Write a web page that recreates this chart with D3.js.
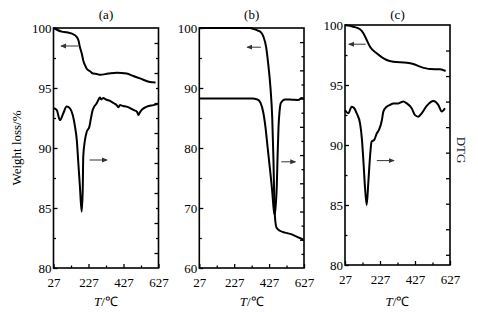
<!DOCTYPE html>
<html>
<head>
<meta charset="utf-8">
<script src="https://cdn.jsdelivr.net/npm/d3@7"></script>
<style>
body { margin: 0; background: #fff; }
svg { display: block; font-family: "Liberation Serif", "Times New Roman", serif; }
.curve { fill: none; stroke: #000; stroke-width: 2; stroke-linejoin: round; }
.frame { fill: none; stroke: #000; stroke-width: 1.6; }
.tick line { stroke: #000; stroke-width: 1.3; }
.tick text { font-size: 13px; fill: #000; font-family: "Liberation Serif", serif; }
.arrow { stroke: #333; stroke-width: 1; }
</style>
</head>
<body>
<svg width="478" height="312"></svg>
<script>
// temperature axis (shared)
var tempTicks = [27, 227, 427, 627];
var tempMinor = [127, 327, 527];
var panelNames = ["(a)", "(b)", "(c)"];

// weight loss ticks
var weightTicksA = [80, 85, 90, 95, 100];
var weightTicksB = [60, 70, 80, 90, 100];
var weightTicksC = [80, 85, 90, 95, 100];

// TG curves [T, weight %]
var tgA = [[27,100],[74,99.7],[102,99.64],[150,99.4],[169,99.0],[178,98.4],[188,97.9],[197,97.3],
  [207,96.9],[217,96.6],[236,96.4],[254,96.2],[274,96.17],[293,96.1],[340,96.2],[388,96.28],
  [445,96.2],[483,96.0],[521,95.8],[578,95.5],[610,95.45]];
var tgB = [[27,100],[318,100],[336,99.85],[360,99.6],[375,99.4],[394,98.6],[410,96.8],[422,94],
  [435,90],[445,85],[452,78],[457,71],[462,68],[470,66.7],[489,66.2],[518,65.9],[557,65.6],
  [594,65.1],[623,64.75]];
var tgC = [[27,100],[74,99.86],[113,99.64],[132,99.31],[151,98.75],[170,98.19],[208,97.64],
  [265,97.08],[303,96.94],[380,96.86],[417,96.75],[456,96.53],[513,96.33],[570,96.31],[602,96.17]];

// DTG curves [T, arbitrary units on right axis]
var dtgA = [[27,4.83],[45,4.77],[64,4.43],[83,4.66],[102,4.88],[121,4.82],[137,4.6],[150,4.21],
  [160,3.77],[169,2.99],[178,2.21],[188,1.38],[194,2.1],[197,3.21],[207,3.77],[217,4.04],
  [232,4.21],[241,4.49],[251,4.77],[260,4.88],[274,4.99],[283,5.1],[292,5.18],[300,5.12],
  [312,5.17],[325,5.12],[350,5.07],[370,5.0],[388,4.93],[397,4.86],[407,4.93],[425,4.9],
  [445,4.88],[483,4.77],[505,4.7],[512,4.6],[520,4.68],[531,4.77],[560,4.88],[597,4.93],[627,4.97]];
var dtgB = [[27,5.0],[330,5.0],[360,4.97],[378,4.85],[394,4.5],[406,4.0],[418,3.3],[432,2.5],
  [445,1.7],[453,1.1],[459,0.88],[466,1.3],[471,1.9],[476,3.06],[481,4.0],[487,4.55],[495,4.85],
  [518,4.97],[558,4.96],[594,4.95],[614,5.02],[627,5.0]];
var dtgC = [[27,5.67],[46,5.54],[65,5.8],[80,5.74],[94,5.54],[113,5.15],[124,4.5],[133,3.58],
  [141,2.67],[151,1.95],[160,2.8],[170,3.84],[179,4.43],[194,4.5],[209,4.76],[221,4.89],
  [238,5.28],[246,5.61],[265,5.8],[284,5.87],[303,5.93],[332,5.93],[360,6.0],[380,5.93],
  [408,5.74],[427,5.47],[446,5.41],[465,5.54],[494,5.83],[532,6.02],[560,5.87],[580,5.61],[598,5.74]];

// arrows [T start, T end, weight]
var arrowsTg = [[169, 71, 98.5], [380, 302, 96.8], [145, 50, 98.4]];
var arrowsDtg = [[233, 332, 89], [497, 577, 77.7], [209, 306, 88.7]];

var svg = d3.select("svg");

svg.append("defs").append("marker")
    .attr("id", "head")
    .attr("viewBox", "0 -3 6 6")
    .attr("refX", 5).attr("refY", 0)
    .attr("markerWidth", 6).attr("markerHeight", 6)
    .attr("markerUnits", "userSpaceOnUse")
    .attr("orient", "auto")
  .append("path")
    .attr("d", "M0,-2.5L6,0L0,2.5Z")
    .attr("fill", "#333");

var halfs = function (t) {
    var out = [];
    for (var i = 0; i < t.length - 1; i++) out.push((t[i] + t[i + 1]) / 2);
    return out;
};

var panels = [
  {left: 53.5, right: 158.5, top: 28, bottom: 268, wTicks: weightTicksA,
   dDomain: [-0.5, 7.5], dTicks: d3.range(0, 8), dMinor: d3.range(0.5, 7, 1), tg: tgA, dtg: dtgA},
  {left: 199.3, right: 304, top: 28, bottom: 268, wTicks: weightTicksB,
   dDomain: [-1, 7.5], dTicks: d3.range(0, 8), dMinor: d3.range(-0.5, 7, 1), tg: tgB, dtg: dtgB},
  {left: 345, right: 450, top: 25, bottom: 265, wTicks: weightTicksC,
   dDomain: [-0.4, 9], dTicks: d3.range(0, 9), dMinor: [], tg: tgC, dtg: dtgC}
];

panels.forEach(function (p, i) {
    var x = d3.scaleLinear().domain([27, 627]).range([p.left, p.right]);
    var y = d3.scaleLinear().domain(d3.extent(p.wTicks)).range([p.bottom, p.top]);
    var yD = d3.scaleLinear().domain(p.dDomain).range([p.bottom, p.top]);
    var g = svg.append("g");

    // left axis
    g.append("g").attr("transform", "translate(" + p.left + ",0)")
        .call(d3.axisLeft(y).tickValues(p.wTicks).tickSize(-4).tickPadding(2))
        .call(function (s) { s.select(".domain").remove(); });
    g.append("g").attr("transform", "translate(" + p.left + ",0)")
        .call(d3.axisLeft(y).tickValues(halfs(p.wTicks)).tickSize(-2.5).tickFormat(""))
        .call(function (s) { s.select(".domain").remove(); });

    // right (DTG) axis, no labels
    g.append("g").attr("transform", "translate(" + p.right + ",0)")
        .call(d3.axisRight(yD).tickValues(p.dTicks).tickSize(-4).tickFormat(""))
        .call(function (s) { s.select(".domain").remove(); });
    g.append("g").attr("transform", "translate(" + p.right + ",0)")
        .call(d3.axisRight(yD).tickValues(p.dMinor).tickSize(-2.5).tickFormat(""))
        .call(function (s) { s.select(".domain").remove(); });

    // bottom axis
    g.append("g").attr("transform", "translate(0," + p.bottom + ")")
        .call(d3.axisBottom(x).tickValues(tempTicks).tickSize(-4).tickPadding(10).tickFormat(d3.format("d")))
        .call(function (s) { s.select(".domain").remove(); });
    g.append("g").attr("transform", "translate(0," + p.bottom + ")")
        .call(d3.axisBottom(x).tickValues(tempMinor).tickSize(-2.5).tickFormat(""))
        .call(function (s) { s.select(".domain").remove(); });

    g.append("rect").attr("class", "frame")
        .attr("x", p.left).attr("y", p.top)
        .attr("width", p.right - p.left).attr("height", p.bottom - p.top);

    var lineTg = d3.line().curve(d3.curveMonotoneX)
        .x(function (d) { return x(d[0]); })
        .y(function (d) { return y(d[1]); });
    var lineDtg = d3.line().curve(d3.curveMonotoneX)
        .x(function (d) { return x(d[0]); })
        .y(function (d) { return yD(d[1]); });

    g.append("path").datum(p.tg).attr("class", "curve").attr("d", lineTg);
    g.append("path").datum(p.dtg).attr("class", "curve").attr("d", lineDtg);

    [arrowsTg[i], arrowsDtg[i]].forEach(function (a) {
        g.append("line").attr("class", "arrow")
            .attr("x1", x(a[0])).attr("x2", x(a[1]))
            .attr("y1", y(a[2])).attr("y2", y(a[2]))
            .attr("marker-end", "url(#head)");
    });

    var cx = (p.left + p.right) / 2;
    g.append("text")
        .attr("x", cx).attr("y", 19)
        .attr("text-anchor", "middle")
        .style("font-size", "13px")
        .text(panelNames[i]);

    var xt = g.append("text")
        .attr("x", cx).attr("y", 306)
        .attr("text-anchor", "middle")
        .style("font-size", "13px");
    xt.append("tspan").style("font-style", "italic").text("T");
    xt.append("tspan").text("/℃");
});

svg.append("text")
    .attr("transform", "translate(21,148) rotate(-90)")
    .attr("text-anchor", "middle")
    .style("font-size", "13px")
    .text("Weight loss/%");

svg.append("text")
    .attr("transform", "translate(457,150) rotate(90)")
    .attr("text-anchor", "middle")
    .style("font-size", "13px")
    .style("fill", "#1c1c3c")
    .text("DTG");
</script>
</body>
</html>
